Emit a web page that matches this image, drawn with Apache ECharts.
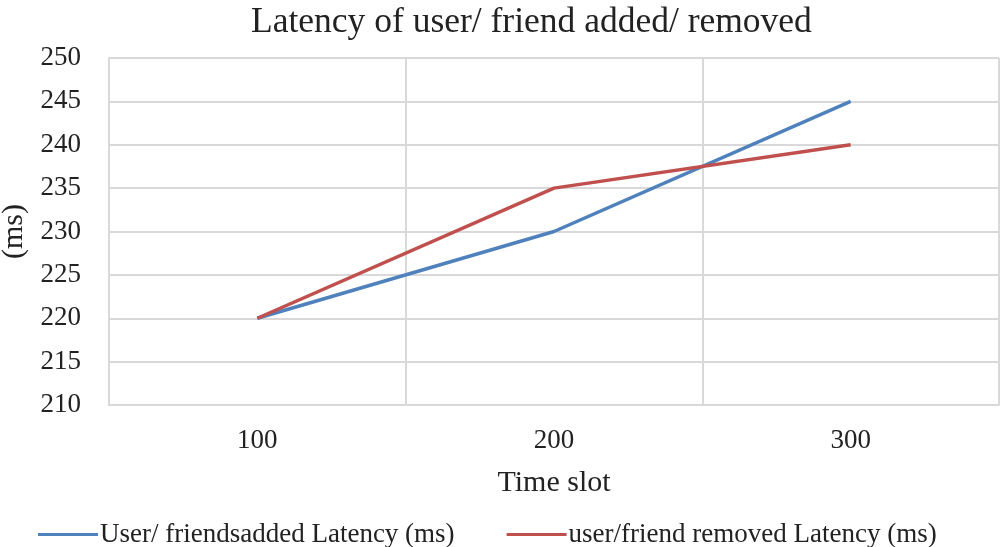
<!DOCTYPE html>
<html><head><meta charset="utf-8">
<script src="https://cdn.jsdelivr.net/npm/echarts@6/dist/echarts.min.js"></script>
<style>html,body{margin:0;padding:0;background:#fff}#c{width:1001px;height:547px}</style>
</head><body><div id="c"></div>
<script>
const categories = ['100', '200', '300'];
const addedLatency = [220, 230, 245];
const removedLatency = [220, 235, 240];
const seriesNames = ['User/ friendsadded Latency (ms)', 'user/friend removed Latency (ms)'];
const font = 'Liberation Serif';
const chart = echarts.init(document.getElementById('c'));
chart.setOption({
  animation: false,
  title: { text: 'Latency of user/ friend added/ removed', left: 246, top: 0,
    textStyle: { fontFamily: font, fontSize: 35.5, fontWeight: 'normal', color: '#222' } },
  legend: { top: 521, left: 38, padding: 0, itemGap: 52, itemWidth: 60, itemHeight: 3,
    icon: 'rect', textStyle: { fontFamily: font, fontSize: 27, color: '#222', padding: [0, 0, 0, -3] },
    data: seriesNames },
  grid: { left: 109, right: 2, top: 58, bottom: 142, outerBoundsMode: 'none', containLabel: false },
  xAxis: { type: 'category', data: categories, boundaryGap: true,
    name: 'Time slot', nameLocation: 'middle', nameGap: 63,
    nameTextStyle: { fontFamily: font, fontSize: 30, color: '#222' },
    axisLine: { lineStyle: { color: '#d9d9d9', width: 2 } },
    axisTick: { show: false },
    axisLabel: { fontFamily: font, fontSize: 27, color: '#222', margin: 22 },
    splitLine: { show: true, lineStyle: { color: '#d9d9d9', width: 2 } } },
  yAxis: { type: 'value', min: 210, max: 250, interval: 5,
    name: '(ms)', nameLocation: 'middle', nameGap: 70, nameRotate: 90,
    nameTextStyle: { fontFamily: font, fontSize: 30, color: '#222' },
    axisLine: { show: true, lineStyle: { color: '#d9d9d9', width: 2 } },
    axisTick: { show: false },
    axisLabel: { fontFamily: font, fontSize: 27, color: '#222', margin: 28 },
    splitLine: { lineStyle: { color: '#d9d9d9', width: 2 } } },
  series: [
    { name: seriesNames[0], type: 'line', data: addedLatency, symbol: 'none',
      lineStyle: { color: '#4f81bd', width: 3.5 }, itemStyle: { color: '#4f81bd' } },
    { name: seriesNames[1], type: 'line', data: removedLatency, symbol: 'none',
      lineStyle: { color: '#c0504d', width: 3.5 }, itemStyle: { color: '#c0504d' } }
  ]
});
</script></body></html>
